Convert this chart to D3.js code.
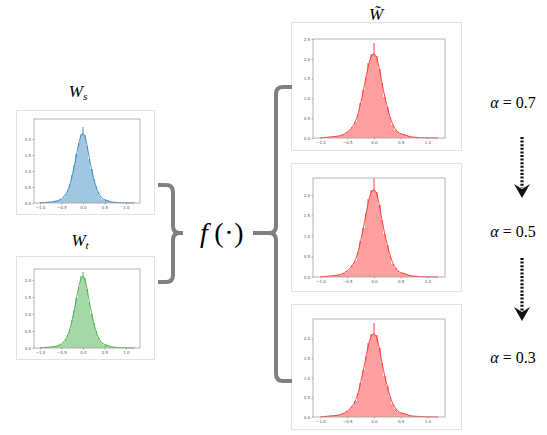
<!DOCTYPE html>
<html>
<head>
<meta charset="utf-8">
<script src="https://cdn.jsdelivr.net/npm/d3@7"></script>
<style>
  body { margin: 0; background: #fff; }
  .serif { font-family: "Liberation Serif", "DejaVu Serif", serif; }
  .tick text { font-family: "DejaVu Sans", sans-serif; }
</style>
</head>
<body>
<div id="chart"></div>
<script>
// bin centres shared by every histogram
var binCenters = [-1.00,-0.95,-0.90,-0.85,-0.80,-0.75,-0.70,-0.65,-0.60,-0.55,
                  -0.50,-0.45,-0.40,-0.35,-0.30,-0.25,-0.20,-0.15,-0.10,-0.05,
                   0.00, 0.05, 0.10, 0.15, 0.20, 0.25, 0.30, 0.35, 0.40, 0.45,
                   0.50, 0.55, 0.60, 0.65, 0.70, 0.75, 0.80, 0.85, 0.90, 0.95,
                   1.00, 1.05, 1.10, 1.15, 1.20];

// W_s (blue)
var blueHist = [0.01,0.01,0.015,0.02,0.025,0.03,0.04,0.05,0.065,0.09,
                0.13,0.19,0.27,0.39,0.58,0.86,1.18,1.52,1.88,2.15,
                2.37,2.12,1.78,1.38,1.05,0.76,0.52,0.33,0.21,0.14,
                0.10,0.08,0.06,0.04,0.03,0.02,0.015,0.01,0.008,0.006,
                0.005,0.004,0.003,0.002,0.001];
var blueKde = [0.01,0.012,0.016,0.021,0.027,0.033,0.042,0.053,0.07,0.095,
               0.135,0.195,0.28,0.40,0.59,0.86,1.17,1.50,1.84,2.08,
               2.16,2.06,1.77,1.40,1.06,0.77,0.53,0.35,0.23,0.15,
               0.11,0.085,0.062,0.043,0.03,0.022,0.016,0.012,0.009,0.007,
               0.005,0.004,0.003,0.002,0.001];

// W_t (green)
var greenHist = [0.008,0.01,0.012,0.018,0.022,0.03,0.035,0.045,0.06,0.085,
                 0.12,0.18,0.26,0.38,0.56,0.82,1.12,1.46,1.80,2.12,
                 2.22,2.05,1.72,1.34,1.00,0.72,0.50,0.32,0.21,0.14,
                 0.10,0.08,0.06,0.04,0.03,0.02,0.015,0.01,0.008,0.006,
                 0.005,0.004,0.003,0.002,0.001];
var greenKde = [0.009,0.011,0.014,0.019,0.024,0.031,0.038,0.048,0.064,0.09,
                0.125,0.185,0.27,0.39,0.57,0.83,1.13,1.46,1.78,2.02,
                2.10,1.99,1.72,1.36,1.03,0.75,0.52,0.34,0.22,0.15,
                0.11,0.085,0.062,0.043,0.03,0.022,0.016,0.012,0.009,0.007,
                0.005,0.004,0.003,0.002,0.001];

// W~ (red, same shape for the three alphas)
var redHist = [0.01,0.012,0.015,0.02,0.03,0.035,0.04,0.05,0.07,0.10,
               0.15,0.20,0.28,0.40,0.60,0.88,1.20,1.55,1.90,2.12,
               2.40,2.08,1.75,1.38,1.04,0.78,0.52,0.32,0.21,0.14,
               0.10,0.09,0.07,0.04,0.03,0.02,0.02,0.01,0.01,0.008,
               0.006,0.004,0.003,0.002,0.001];
var redKde = [0.01,0.012,0.016,0.022,0.03,0.036,0.043,0.055,0.075,0.105,
              0.15,0.21,0.29,0.41,0.60,0.87,1.18,1.52,1.84,2.06,
              2.12,2.03,1.76,1.40,1.06,0.78,0.54,0.35,0.23,0.15,
              0.11,0.09,0.07,0.045,0.03,0.022,0.017,0.012,0.009,0.007,
              0.005,0.004,0.003,0.002,0.001];

var xTicks = [-1.0, -0.5, 0.0, 0.5, 1.0];
var alphaLabels = ["0.7", "0.5", "0.3"];

var binWidth = 0.05;
var xDomain = [-1.14, 1.33];

var svg = d3.select("#chart")
            .append("svg")
            .attr("width", 547)
            .attr("height", 435)
            .style("display", "block");

// one small distplot: card, frame, bars, kde, axes
function drawPanel(p, hist, kde, color) {
    svg.append("rect")
       .attr("x", p.cx + 0.5).attr("y", p.cy + 0.5)
       .attr("width", p.cw).attr("height", p.ch)
       .attr("fill", "#fff")
       .attr("stroke", "#e2e2e2");

    var xScale = d3.scaleLinear().domain(xDomain).range([p.fx, p.fx + p.fw]);
    var yScale = d3.scaleLinear().domain([0, p.yMax]).range([p.fy + p.fh, p.fy]);

    var g = svg.append("g");

    g.selectAll("rect.bar")
     .data(hist)
     .enter()
     .append("rect")
     .attr("class", "bar")
     .attr("x", function(d, i) { return xScale(binCenters[i] - binWidth / 2); })
     .attr("width", function(d, i) { return xScale(binCenters[i] + binWidth / 2) - xScale(binCenters[i] - binWidth / 2) + 0.05; })
     .attr("y", function(d) { return yScale(d); })
     .attr("height", function(d) { return yScale(0) - yScale(d); })
     .attr("fill", color)
     .attr("fill-opacity", 0.42)
     .attr("shape-rendering", "crispEdges");

    var line = d3.line()
                 .x(function(d, i) { return xScale(binCenters[i]); })
                 .y(function(d) { return yScale(d); })
                 .curve(d3.curveMonotoneX);

    g.append("path")
     .datum(kde)
     .attr("d", line)
     .attr("fill", "none")
     .attr("stroke", color)
     .attr("stroke-opacity", 0.8)
     .attr("stroke-width", 1);

    var yTicks = d3.range(0, p.tickMax + 0.01, 0.5);

    var xa = g.append("g")
      .attr("transform", "translate(0," + (p.fy + p.fh) + ")")
      .call(d3.axisBottom(xScale).tickValues(xTicks).tickSize(1.5).tickPadding(1.5).tickFormat(d3.format(".1f")));
    var ya = g.append("g")
      .attr("transform", "translate(" + p.fx + ",0)")
      .call(d3.axisLeft(yScale).tickValues(yTicks).tickSize(1.5).tickPadding(1.5).tickFormat(d3.format(".1f")));

    [xa, ya].forEach(function(a) {
        a.select(".domain").remove();
        a.selectAll("line").attr("stroke", "#555").attr("stroke-width", 0.5);
        a.selectAll("text").attr("fill", "#555").style("font-size", "4px");
    });

    g.append("rect")
     .attr("x", p.fx).attr("y", p.fy)
     .attr("width", p.fw).attr("height", p.fh)
     .attr("fill", "none")
     .attr("stroke", "#a0a0a0")
     .attr("stroke-width", 0.8);
}

drawPanel({cx: 16, cy: 110, cw: 138, ch: 104, fx: 34, fy: 119, fw: 106, fh: 84, yMax: 2.62, tickMax: 2.0},
          blueHist, blueKde, "#1f77b4");
drawPanel({cx: 16, cy: 256, cw: 138, ch: 103, fx: 34, fy: 269, fw: 106, fh: 79, yMax: 2.32, tickMax: 2.0},
          greenHist, greenKde, "#2ca02c");
drawPanel({cx: 291, cy: 22, cw: 170, ch: 128, fx: 313, fy: 39, fw: 132, fh: 99, yMax: 2.5, tickMax: 2.5},
          redHist, redKde, "#ff1a1a");
drawPanel({cx: 291, cy: 163, cw: 170, ch: 128, fx: 313, fy: 178, fw: 132, fh: 99, yMax: 2.41, tickMax: 2.0},
          redHist, redKde, "#ff1a1a");
drawPanel({cx: 291, cy: 304, cw: 170, ch: 125, fx: 313, fy: 319, fw: 132, fh: 98, yMax: 2.5, tickMax: 2.0},
          redHist, redKde, "#ff1a1a");

// titles
function title(x, y, main, sub) {
    var t = svg.append("text")
               .attr("class", "serif")
               .attr("x", x).attr("y", y)
               .attr("text-anchor", "middle")
               .attr("fill", "#000")
               .style("font-size", "17px")
               .style("font-style", "italic");
    t.append("tspan").text(main);
    if (sub) {
        t.append("tspan").attr("dy", 3).style("font-size", "11px").text(sub);
    }
}
title(78, 97, "W", "s");
title(80, 246, "W", "t");
title(376, 20, "W\u0303", null);

// braces
var brace = "#808080";
svg.append("path")
   .attr("d", "M158,185 H166 Q173,185 173,192 V226 Q173,233 180,233 H183 M180,233 Q173,233 173,240 V275 Q173,282 166,282 H158")
   .attr("fill", "none").attr("stroke", brace).attr("stroke-width", 4);

svg.append("path")
   .attr("d", "M253,233 H270 M292,87 H283 Q276,87 276,94 V226 Q276,233 269,233 M269,233 Q276,233 276,240 V374 Q276,381 283,381 H292")
   .attr("fill", "none").attr("stroke", brace).attr("stroke-width", 4);

// f(·)
var fx = [[204, "f", "italic"], [219, "(", "normal"], [229, "\u00B7", "normal"], [239, ")", "normal"]];
fx.forEach(function(c) {
    svg.append("text").attr("class", "serif")
       .attr("x", c[0]).attr("y", 242).attr("text-anchor", "middle")
       .style("font-size", "28px").style("font-style", c[2]).text(c[1]);
});

// alpha labels
var alphaY = [108, 237, 363];
alphaLabels.forEach(function(v, i) {
    var t = svg.append("text")
               .attr("class", "serif")
               .attr("x", 513).attr("y", alphaY[i])
               .attr("text-anchor", "middle")
               .style("font-size", "16px");
    t.append("tspan").style("font-style", "italic").text("\u03B1");
    t.append("tspan").text(" = " + v);
});

// dotted arrows
[[137, 198], [258, 321]].forEach(function(a) {
    svg.append("line")
       .attr("x1", 522).attr("x2", 522)
       .attr("y1", a[0]).attr("y2", a[1] - 10)
       .attr("stroke", "#111").attr("stroke-width", 3.2)
       .attr("stroke-dasharray", "2,1.6");
    svg.append("path")
       .attr("d", "M522," + a[1] + " L514," + (a[1] - 14) + " L522," + (a[1] - 9) + " L530," + (a[1] - 14) + " Z")
       .attr("fill", "#111");
});
</script>
</body>
</html>
